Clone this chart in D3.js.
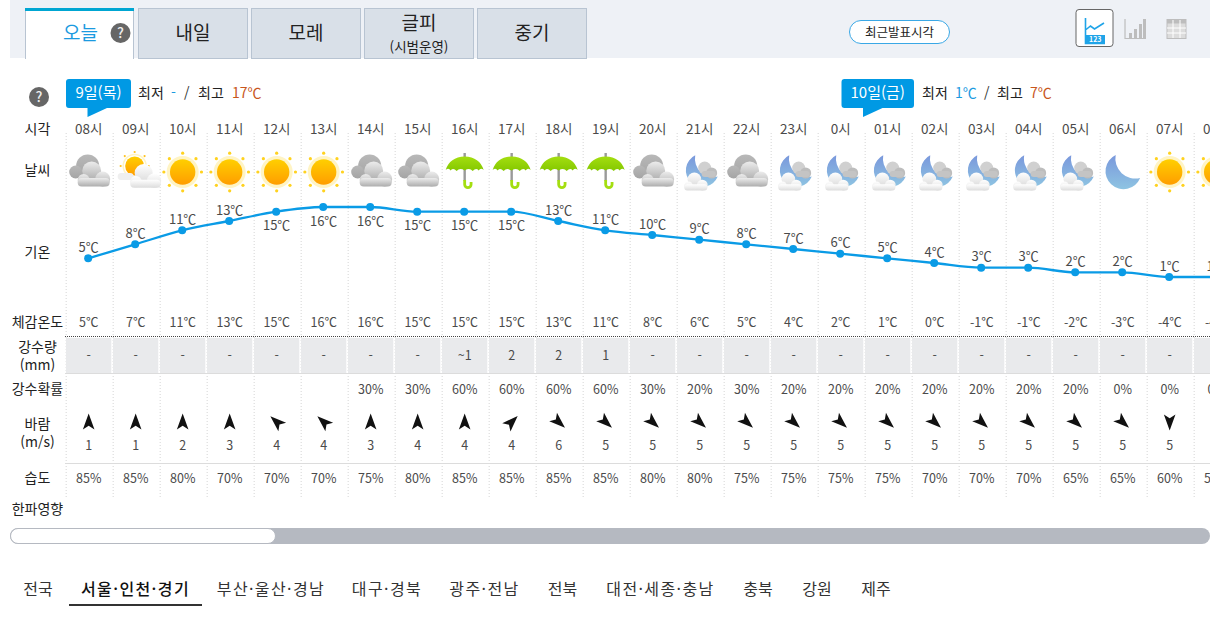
<!DOCTYPE html>
<html lang="ko">
<head>
<meta charset="utf-8">
<title>동네예보</title>
<script src="https://cdn.jsdelivr.net/npm/d3@7"></script>
<style>
  html, body { margin: 0; padding: 0; background: #fff; overflow: hidden; }
  svg { display: block; }
  text { font-family: "Noto Sans CJK KR", "Noto Sans", sans-serif; }
</style>
</head>
<body>
<svg id="chart" width="1219" height="622"></svg>
<script>
// Forecast values, one entry per hour
var hours = ["08시","09시","10시","11시","12시","13시","14시","15시","16시","17시","18시","19시","20시","21시","22시","23시","0시","01시","02시","03시","04시","05시","06시","07시","08시"];
var skies = ["cloud","partly","sun","sun","sun","sun","cloud","cloud","rain","rain","rain","rain","cloud","moonCloud","cloud","moonCloud","moonCloud","moonCloud","moonCloud","moonCloud","moonCloud","moonCloud","moon","sun","sun"];
var temps = [5,8,11,13,15,16,16,15,15,15,13,11,10,9,8,7,6,5,4,3,3,2,2,1,1];
var feels = [5,7,11,13,15,16,16,15,15,15,13,11,8,6,5,4,2,1,0,-1,-1,-2,-3,-4,-4];
var rainAmounts = ["-","-","-","-","-","-","-","-","~1","2","2","1","-","-","-","-","-","-","-","-","-","-","-","-","-"];
var rainChances = [null,null,null,null,null,null,30,30,60,60,60,60,30,20,30,20,20,20,20,20,20,20,0,0,0];
var windDirs = [0,0,0,0,-48,-48,0,0,0,45,132,132,132,132,132,132,132,132,132,132,132,132,132,180,180];
var windSpeeds = [1,1,2,3,4,4,3,4,4,4,6,5,5,5,5,5,5,5,5,5,5,5,5,5,5];
var humidity = [85,85,80,70,70,70,75,80,85,85,85,85,80,80,75,75,75,75,70,70,70,65,65,60,55];

var tabs = ["오늘","내일","모레","글피","중기"];
var regions = ["전국","서울·인천·경기","부산·울산·경남","대구·경북","광주·전남","전북","대전·세종·충남","충북","강원","제주"];
var regionCenters = [38,135.5,271,387,484.5,562.5,660.5,758,817,876];

var svg = d3.select("#chart");
var defs = svg.append("defs");

function gradient(id, top, bottom) {
  var g = defs.append("linearGradient").attr("id", id)
    .attr("x1", 0).attr("y1", 0).attr("x2", 0).attr("y2", 1);
  g.append("stop").attr("offset", "0%").attr("stop-color", top);
  g.append("stop").attr("offset", "100%").attr("stop-color", bottom);
}
gradient("sunFill", "#ffcf00", "#ff9d00");
gradient("backCloud", "#b8b8b8", "#a4a4a4");
gradient("frontCloud", "#ececec", "#adadad");
gradient("whiteCloud", "#ffffff", "#dcdcdc");
gradient("moonFill", "#7a98dc", "#8ec4e2");
gradient("greenFill", "#a4de10", "#84c800");
defs.append("clipPath").attr("id", "tableClip")
  .append("rect").attr("x", 10).attr("y", 100).attr("width", 1200).attr("height", 420);

// Scales
var x = d3.scaleBand().domain(d3.range(hours.length)).range([65.67, 65.67 + 47 * hours.length]);
var y = d3.scaleLinear().domain([1, 16]).range([277, 207]);
var cx = function(i) { return x(i) + x.bandwidth() / 2 - 1; };

function label(parent, px, py, str, size, color, anchor) {
  return parent.append("text")
    .attr("x", px).attr("y", py)
    .attr("dy", "0.36em")
    .attr("text-anchor", anchor || "middle")
    .attr("font-size", size)
    .attr("fill", color)
    .text(str);
}

// Header band and tabs
svg.append("rect").attr("x", 10).attr("y", 0).attr("width", 1200).attr("height", 58).attr("fill", "#eef1f6");
tabs.forEach(function(t, i) {
  var left = 25 + 113 * i, w = i == 0 ? 109 : 110;
  if (i > 0) left = 138 + 113 * (i - 1);
  svg.append("rect").attr("x", left + 0.5).attr("y", 8.5).attr("width", w - 1).attr("height", 50)
    .attr("fill", i == 0 ? "#fff" : "#d9e0e8").attr("stroke", "#b8c4d2");
  if (i == 0) {
    svg.append("rect").attr("x", left).attr("y", 8).attr("width", w).attr("height", 3).attr("fill", "#00a6d2");
    svg.append("rect").attr("x", left + 1).attr("y", 56).attr("width", w - 2).attr("height", 3).attr("fill", "#fff");
    label(svg, 80.5, 33, t, 19, "#1b9ae0");
  } else if (t == "글피") {
    label(svg, left + 55, 23, t, 19, "#222");
    label(svg, left + 55, 47, "(시범운영)", 13.5, "#222");
  } else {
    label(svg, left + 55, 33, t, 19, "#222");
  }
});

function helpMark(px, py) {
  svg.append("circle").attr("cx", px).attr("cy", py).attr("r", 10).attr("fill", "#666");
  label(svg, px, py, "?", 14, "#eee").attr("font-weight", 500);
}
helpMark(120.5, 33);
helpMark(39, 97);

// Latest announcement pill
svg.append("rect").attr("x", 849.5).attr("y", 20.5).attr("width", 100).attr("height", 23).attr("rx", 11.5)
  .attr("fill", "#fff").attr("stroke", "#3aa8e6");
label(svg, 899.5, 32, "최근발표시각", 12.5, "#222");

// View switch icons
svg.append("rect").attr("x", 1076).attr("y", 9.5).attr("width", 37).attr("height", 37).attr("rx", 3)
  .attr("fill", "#fff").attr("stroke", "#666");
svg.append("path").attr("d", "M1085.5,18V43.5H1105M1085.5,30l5,-4l4,3l9.5,-6").attr("fill", "none").attr("stroke", "#1fa4e8").attr("stroke-width", 1.6);
svg.append("rect").attr("x", 1085.5).attr("y", 35).attr("width", 19.5).attr("height", 8).attr("fill", "#1fa4e8");
label(svg, 1095.2, 39, "123", 7, "#fff").attr("font-weight", 700);
var iconGray = "#bdbdbd";
svg.append("path").attr("d", "M1125,19V38.5H1146").attr("fill", "none").attr("stroke", iconGray).attr("stroke-width", 1.2);
[[1129,33,6],[1134,29,10],[1139,24,15],[1143,19,20]].forEach(function(b) {
  svg.append("rect").attr("x", b[0]).attr("y", b[1]).attr("width", 3).attr("height", b[2]).attr("fill", iconGray);
});
svg.append("rect").attr("x", 1167).attr("y", 19.5).attr("width", 19).attr("height", 19).attr("fill", "#dcdcdc").attr("stroke", iconGray);
svg.append("rect").attr("x", 1167).attr("y", 19.5).attr("width", 19).attr("height", 4).attr("fill", iconGray);
[1173,1180].forEach(function(v) {
  svg.append("line").attr("x1", v).attr("x2", v).attr("y1", 20).attr("y2", 38).attr("stroke", "#fff");
});
[28,33].forEach(function(v) {
  svg.append("line").attr("x1", 1167).attr("x2", 1186).attr("y1", v).attr("y2", v).attr("stroke", "#fff");
});

// Date bubbles with daily low and high
function dayHeader(left, w, day, parts) {
  svg.append("path")
    .attr("d", "M" + (left + 3) + ",79H" + (left + w - 3) + "q3,0 3,3V105q0,3 -3,3H" + (left + 41) + "L" + (left + 21.5) + ",117V108H" + (left + 3) + "q-3,0 -3,-3V82q0,-3 3,-3Z")
    .attr("fill", "#0099e4");
  label(svg, left + w / 2, 92.5, day, 15, "#fff");
  parts.forEach(function(p) { label(svg, p[0], 92.5, p[1], 14, p[2], "start"); });
}
dayHeader(66, 65, "9일(목)", [[138, "최저", "#222"], [171, "-", "#1b9ae0"], [184, "/", "#333"], [198, "최고", "#222"], [232, "17℃", "#c8561c"]]);
dayHeader(841.5, 72.5, "10일(금)", [[922, "최저", "#222"], [955, "1℃", "#1b9ae0"], [984, "/", "#333"], [997, "최고", "#222"], [1030, "7℃", "#c8561c"]]);

// Weather icons
var icons = defs;
function cloudShape(g, fill, dx, dy, k) {
  var c = g.append("g").attr("transform", "translate(" + dx + "," + dy + ") scale(" + k + ")").attr("fill", fill);
  c.append("circle").attr("cx", 1).attr("cy", -1).attr("r", 9.5);
  c.append("circle").attr("cx", -7).attr("cy", 8).attr("r", 6);
  c.append("circle").attr("cx", 12).attr("cy", 7).attr("r", 7.5);
  c.append("rect").attr("x", -13).attr("y", 6).attr("width", 32).attr("height", 8.5).attr("rx", 4);
}
function moonShape(g, k, dx, dy) {
  g.append("path").attr("d", "M-7,-17A18,18 0 1 0 17.5,6A20,20 0 0 1 -7,-17Z")
    .attr("transform", "translate(" + dx + "," + dy + ") scale(" + k + ")")
    .attr("fill", "url(#moonFill)");
}
var sunIcon = icons.append("g").attr("id", "sun");
sunIcon.append("circle").attr("r", 16).attr("fill", "#fff4c4");
sunIcon.append("circle").attr("r", 12.7).attr("fill", "url(#sunFill)");
d3.range(8).forEach(function(k) {
  var a = k * Math.PI / 4;
  sunIcon.append("circle").attr("cx", 18.8 * Math.cos(a)).attr("cy", 18.8 * Math.sin(a)).attr("r", 1.6).attr("fill", "#ffd21f");
});
var cloudIcon = icons.append("g").attr("id", "cloud");
cloudIcon.append("circle").attr("cx", -1).attr("cy", -6).attr("r", 11.5).attr("fill", "url(#backCloud)");
cloudIcon.append("circle").attr("cx", -13).attr("cy", 0).attr("r", 6.5).attr("fill", "url(#backCloud)");
cloudShape(cloudIcon, "url(#frontCloud)", 2, 0, 1);
var partlyIcon = icons.append("g").attr("id", "partly");
partlyIcon.append("circle").attr("cx", -1).attr("cy", -6).attr("r", 9.5).attr("fill", "url(#sunFill)");
partlyIcon.append("circle").attr("cx", -1).attr("cy", -6).attr("r", 11.5).attr("fill", "none").attr("stroke", "#fff4c4").attr("stroke-width", 1.5);
d3.range(8).forEach(function(k) {
  var a = k * Math.PI / 4;
  partlyIcon.append("circle").attr("cx", -1 + 14 * Math.cos(a)).attr("cy", -6 + 14 * Math.sin(a)).attr("r", 1.1).attr("fill", "#ffc21f");
});
partlyIcon.append("rect").attr("x", -18).attr("y", 1).attr("width", 16).attr("height", 7).attr("rx", 3.5).attr("fill", "#efefef");
cloudShape(partlyIcon, "url(#whiteCloud)", 7, 2, 0.95);
var moonCloudIcon = icons.append("g").attr("id", "moonCloud");
moonShape(moonCloudIcon, 0.92, 2, -1);
moonCloudIcon.append("circle").attr("cx", 5).attr("cy", -4).attr("r", 6.5).attr("fill", "#d0d0d0");
moonCloudIcon.append("circle").attr("cx", 12).attr("cy", 1).attr("r", 5.5).attr("fill", "#bdbdbd");
moonCloudIcon.append("rect").attr("x", 2).attr("y", -1).attr("width", 14).attr("height", 6).attr("rx", 3).attr("fill", "#c4c4c4");
cloudShape(moonCloudIcon, "url(#whiteCloud)", -6, 8, 0.72);
var moonIcon = icons.append("g").attr("id", "moon");
moonShape(moonIcon, 1, 0, 0);
var rainIcon = icons.append("g").attr("id", "rain");
rainIcon.append("rect").attr("x", -1.2).attr("y", -19).attr("width", 2.4).attr("height", 28).attr("fill", "#9a9a9a");
rainIcon.append("path")
  .attr("d", "M-19,-2Q-15,-15 0,-15.5Q15,-15 19,-2Q16,-4.5 14,-1.5Q11.5,-4.5 8,-1Q5,-4.5 0,-1.5Q-5,-4.5 -8,-1Q-11.5,-4.5 -14,-1.5Q-16,-4.5 -19,-2Z")
  .attr("fill", "url(#greenFill)");
rainIcon.append("path").attr("d", "M0,8V12.5a3.2,3.2 0 0 0 6.4,0V10").attr("fill", "none").attr("stroke", "#a4de10").attr("stroke-width", 2.8);

var table = svg.append("g").attr("clip-path", "url(#tableClip)");

// Column guides
table.selectAll("line.guide").data(d3.range(hours.length)).join("line")
  .attr("class", "guide")
  .attr("x1", function(i) { return x(i) + 0.5; }).attr("x2", function(i) { return x(i) + 0.5; })
  .attr("y1", 133).attr("y2", 498)
  .attr("stroke", "#d5d5d5").attr("stroke-dasharray", "1,2");

// Precipitation cells
table.selectAll("rect.rain").data(rainAmounts).join("rect")
  .attr("class", "rain")
  .attr("x", function(d, i) { return x(i) + 0.3; })
  .attr("y", 338).attr("width", x.bandwidth() - 1.7).attr("height", 35)
  .attr("fill", "#e9eaec");
table.append("line").attr("x1", 65).attr("x2", 1210).attr("y1", 336.5).attr("y2", 336.5)
  .attr("stroke", "#444").attr("stroke-dasharray", "1,1");
[373.5, 463.5].forEach(function(v) {
  table.append("line").attr("x1", 65).attr("x2", 1210).attr("y1", v).attr("y2", v).attr("stroke", "#dcdcdc");
});

// Sky icons
table.selectAll("use.sky").data(skies).join("use")
  .attr("class", "sky")
  .attr("href", function(d) { return "#" + d; })
  .attr("x", function(d, i) { return cx(i) + 0.5; })
  .attr("y", 172);

// Temperature line
var line = d3.line()
  .x(function(d, i) { return cx(i); })
  .y(function(d) { return y(d); })
  .curve(d3.curveMonotoneX);
table.append("path").datum(temps).attr("d", line)
  .attr("fill", "none").attr("stroke", "#0a9be6").attr("stroke-width", 2.3);
table.selectAll("circle.temp").data(temps).join("circle")
  .attr("class", "temp")
  .attr("cx", function(d, i) { return cx(i); })
  .attr("cy", function(d) { return y(d); })
  .attr("r", 4).attr("fill", "#0a9be6");

// Rows of text values
var valueColor = "#4a4a4a";
function textRow(values, py, format, size) {
  values.forEach(function(d, i) {
    if (d === null) return;
    label(table, cx(i) + 0.6, py, format(d), size || 12.5, valueColor);
  });
}
textRow(hours, 129, String, 13.5);
temps.forEach(function(d, i) {
  label(table, cx(i) + 0.5, d >= 15 ? y(d) + 14 : y(d) - 11, d + "℃", 13, valueColor);
});
textRow(feels, 322, function(d) { return d + "℃"; });
textRow(rainAmounts, 355, String);
textRow(rainChances, 389, function(d) { return d + "%"; });
textRow(windSpeeds, 445, String);
textRow(humidity, 478, function(d) { return d + "%"; });

// Wind arrows
table.selectAll("path.wind").data(windDirs).join("path")
  .attr("class", "wind")
  .attr("d", "M0,-8.5L5.8,7.5L0,3.8L-5.8,7.5Z")
  .attr("transform", function(d, i) { return "translate(" + (cx(i) + 0.5) + ",422) rotate(" + d + ")"; })
  .attr("fill", "#111");

// Row headings
var rowHeads = [["시각",129],["날씨",170],["기온",252],["체감온도",322],["강수량",347],["(mm)",365],["강수확률",389],["바람",424],["(m/s)",442],["습도",478],["한파영향",509]];
rowHeads.forEach(function(r) { label(svg, 37.5, r[1], r[0], 14, "#222"); });

// Scrollbar
svg.append("rect").attr("x", 10).attr("y", 528).attr("width", 1200).attr("height", 16).attr("rx", 8).attr("fill", "#b5b9c1");
svg.append("rect").attr("x", 10.5).attr("y", 528.5).attr("width", 265).attr("height", 15).attr("rx", 7.5).attr("fill", "#fff").attr("stroke", "#b5b9c1");

// Region menu
regions.forEach(function(r, i) {
  label(svg, regionCenters[i], 589, r, 16, i == 1 ? "#111" : "#333")
    .attr("font-weight", i == 1 ? 500 : 400)
    .attr("letter-spacing", r.indexOf("·") > 0 ? 1.4 : 0);
});
svg.append("rect").attr("x", 69).attr("y", 604).attr("width", 133).attr("height", 2).attr("fill", "#333");
</script>
</body>
</html>
